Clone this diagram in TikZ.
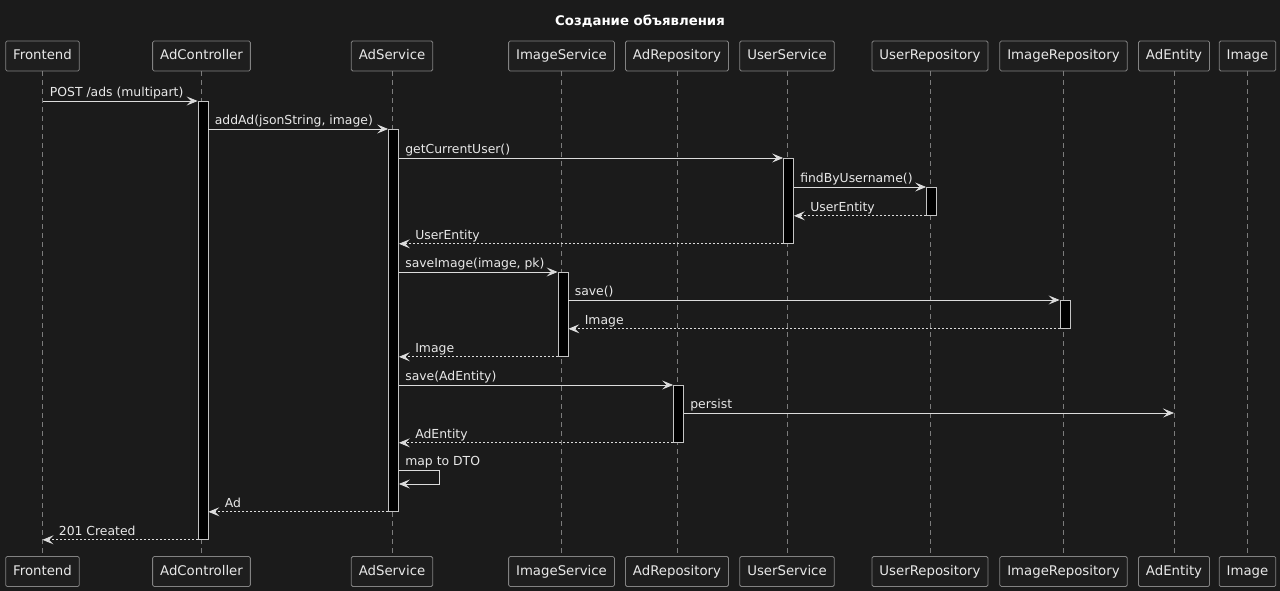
\documentclass[tikz,border=0pt]{standalone}
\usepackage{fontspec}
\setmainfont{DejaVu Sans}
\usetikzlibrary{arrows.meta,calc}
\definecolor{bgc}{HTML}{1B1B1B}
\definecolor{boxfill}{HTML}{1E1E1E}
\definecolor{boxc}{HTML}{828282}
\definecolor{txt}{HTML}{E8E8E8}
\definecolor{linec}{HTML}{DCDCDC}
\definecolor{lifec}{HTML}{7C7C7C}
\definecolor{barc}{HTML}{C4C4C4}
\begin{document}
\begin{tikzpicture}[x=1pt,y=-1pt,
  part/.style={draw=boxc, fill=boxfill, text=txt, font=\fontsize{13.3}{16}\selectfont,
    minimum height=30pt, text height=10pt, text depth=3pt, inner xsep=7.5pt, inner ysep=0pt,
    line width=0.8pt, rounded corners=1.5pt},
  life/.style={draw=lifec, line width=0.7pt, dash pattern=on 5pt off 4pt},
  actbar/.style={draw=barc, fill=black, minimum width=10pt, inner sep=0pt, line width=0.8pt,
    anchor=north, xshift=1.5pt},
  msg/.style={draw=linec, line width=0.8pt, -{Stealth[length=11pt,width=9pt,inset=4.5pt]}},
  ret/.style={msg, dash pattern=on 2pt off 2pt},
  lbl/.style={text=txt, font=\fontsize{12.4}{15}\selectfont, inner sep=0pt, anchor=base west, yshift=4.5pt},
]
\fill[bgc] (0,0) rectangle (1280,591);
\useasboundingbox (0,0) rectangle (1280,591);

\node[text=white, font=\bfseries\fontsize{13.3}{16}\selectfont] (title) at (640,21.5) {Создание объявления};

% participants (top / bottom)
\foreach \n/\x/\t in {F/42.5/Frontend, AC/201.5/AdController, AS/392/AdService, IS/561.5/ImageService,
  AR/677/AdRepository, US/787/UserService, UR/930/UserRepository, IR/1063.5/ImageRepository,
  AE/1174/AdEntity, IM/1247.5/Image}{
  \node[part] (t\n) at (\x,56) {\t};
  \node[part] (b\n) at (\x,571.5) {\t};
  \draw[life] (t\n.south) -- (b\n.north);
}

% activation bars
\node[actbar, minimum height=438pt] (aAC) at (tAC |- 0,101) {};
\node[actbar, minimum height=382pt] (aAS) at (tAS |- 0,129) {};
\node[actbar, minimum height=85pt] (aUS) at (tUS |- 0,158) {};
\node[actbar, minimum height=28pt] (aUR) at (tUR |- 0,187) {};
\node[actbar, minimum height=84pt] (aIS) at (tIS |- 0,272) {};
\node[actbar, minimum height=28pt] (aIR) at (tIR |- 0,300) {};
\node[actbar, minimum height=57pt] (aAR) at (tAR |- 0,385) {};

% messages
\draw[msg] (tF |- aAC.north) -- node[lbl, pos=0, xshift=7pt] {POST /ads (multipart)} (aAC.north west);
\draw[msg] (aAC.east |- aAS.north) -- node[lbl, pos=0, xshift=6pt] {addAd(jsonString, image)} (aAS.north west);
\draw[msg] (aAS.east |- aUS.north) -- node[lbl, pos=0, xshift=6pt] {getCurrentUser()} (aUS.north west);
\draw[msg] (aUS.east |- aUR.north) -- node[lbl, pos=0, xshift=6pt] {findByUsername()} (aUR.north west);
\draw[ret] (aUR.south west) -- node[lbl, pos=1, xshift=16pt] {UserEntity} (aUS.east |- aUR.south);
\draw[ret] (aUS.south west) -- node[lbl, pos=1, xshift=16pt] {UserEntity} (aAS.east |- aUS.south);
\draw[msg] (aAS.east |- aIS.north) -- node[lbl, pos=0, xshift=6pt] {saveImage(image, pk)} (aIS.north west);
\draw[msg] (aIS.east |- aIR.north) -- node[lbl, pos=0, xshift=6pt] {save()} (aIR.north west);
\draw[ret] (aIR.south west) -- node[lbl, pos=1, xshift=16pt] {Image} (aIS.east |- aIR.south);
\draw[ret] (aIS.south west) -- node[lbl, pos=1, xshift=16pt] {Image} (aAS.east |- aIS.south);
\draw[msg] (aAS.east |- aAR.north) -- node[lbl, pos=0, xshift=6pt] {save(AdEntity)} (aAR.north west);
\coordinate (pe) at (tAE |- 0,413);
\draw[msg] (aAR.east |- pe) -- node[lbl, pos=0, xshift=6pt] {persist} (pe);
\draw[ret] (aAR.south west) -- node[lbl, pos=1, xshift=16pt] {AdEntity} (aAS.east |- aAR.south);
\coordinate (s1) at (aAS.east |- 0,470);
\coordinate (s2) at (aAS.east |- 0,484);
\draw[msg] (s1) node[lbl, xshift=6pt] {map to DTO} -- ++(40,0) -- ++(0,14) -- (s2);
\draw[ret] (aAS.south west) -- node[lbl, pos=1, xshift=16pt] {Ad} (aAC.east |- aAS.south);
\draw[ret] (aAC.south west) -- node[lbl, pos=1, xshift=16pt] {201 Created} (tF |- aAC.south);
\end{tikzpicture}
\end{document}
